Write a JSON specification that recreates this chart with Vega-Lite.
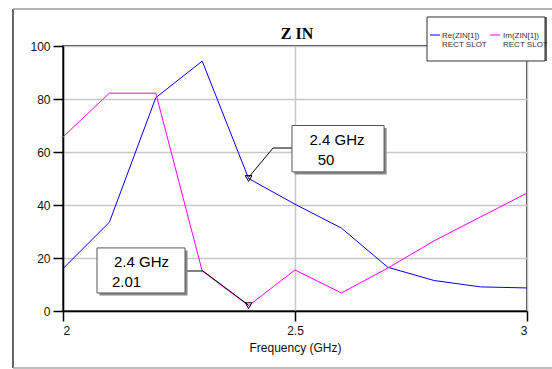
{
  "$schema": "https://vega.github.io/schema/vega-lite/v6.json",
  "width": 464,
  "height": 265,
  "autosize": {"type": "none"},
  "padding": {"left": 63, "top": 46, "right": 25, "bottom": 58},
  "background": "white",
  "config": {
    "view": {"stroke": "black", "strokeWidth": 1.5},
    "axis": {
      "labelFont": "Liberation Sans", "labelFontSize": 12, "labelColor": "#111",
      "titleFont": "Liberation Sans", "titleFontSize": 12, "titleFontWeight": "normal", "titleColor": "#111",
      "domainColor": "black", "domainWidth": 1.5, "tickColor": "black", "tickWidth": 1.5, "tickSize": 10,
      "gridColor": "#c8c8c8", "gridWidth": 1.5
    }
  },
  "datasets": {
    "series": [
      {"freq": 2.0, "value": 16, "series": "Re"},
      {"freq": 2.1, "value": 33.5, "series": "Re"},
      {"freq": 2.2, "value": 80.5, "series": "Re"},
      {"freq": 2.3, "value": 94.3, "series": "Re"},
      {"freq": 2.4, "value": 50, "series": "Re"},
      {"freq": 2.5, "value": 40.3, "series": "Re"},
      {"freq": 2.6, "value": 31.3, "series": "Re"},
      {"freq": 2.7, "value": 16.5, "series": "Re"},
      {"freq": 2.8, "value": 11.5, "series": "Re"},
      {"freq": 2.9, "value": 9.1, "series": "Re"},
      {"freq": 3.0, "value": 8.7, "series": "Re"},
      {"freq": 2.0, "value": 65.7, "series": "Im"},
      {"freq": 2.1, "value": 82.2, "series": "Im"},
      {"freq": 2.2, "value": 82.2, "series": "Im"},
      {"freq": 2.3, "value": 15.1, "series": "Im"},
      {"freq": 2.4, "value": 2.01, "series": "Im"},
      {"freq": 2.5, "value": 15.5, "series": "Im"},
      {"freq": 2.6, "value": 6.8, "series": "Im"},
      {"freq": 2.7, "value": 16.2, "series": "Im"},
      {"freq": 2.8, "value": 26.5, "series": "Im"},
      {"freq": 2.9, "value": 35.5, "series": "Im"},
      {"freq": 3.0, "value": 44.5, "series": "Im"}
    ],
    "markers": [
      {"freq": 2.4, "value": 50},
      {"freq": 2.4, "value": 2.01}
    ],
    "leaders": [
      {"x": 2.4009, "y": 50.6, "x2": 2.4526, "y2": 61.5},
      {"x": 2.4526, "y": 61.5, "x2": 2.4935, "y2": 61.5},
      {"x": 2.263, "y": 15.1, "x2": 2.3017, "y2": 15.1},
      {"x": 2.3017, "y": 15.1, "x2": 2.4, "y2": 2.2}
    ],
    "boxes": [
      {"x": 2.4935, "x2": 2.692, "y": 70.0, "y2": 52.5},
      {"x": 2.0733, "x2": 2.263, "y": 23.8, "y2": 6.8}
    ],
    "boxtext": [
      {"x": 2.5905, "y": 62.6, "label": "2.4 GHz"},
      {"x": 2.5668, "y": 55.1, "label": "50"},
      {"x": 2.1692, "y": 16.6, "label": "2.4 GHz"},
      {"x": 2.1369, "y": 9.06, "label": "2.01"}
    ],
    "frame": [
      {"x": 1.8922, "y": 113.96, "x2": 1.8922, "y2": -21.5, "c": "#333"},
      {"x": 1.8922, "y": 113.96, "x2": 3.06, "y2": 113.96, "c": "#999"},
      {"x": 1.8922, "y": -21.5, "x2": 3.06, "y2": -21.5, "c": "#aaa"}
    ],
    "legbox": [{"x": 2.7845, "x2": 3.0388, "y": 110.94, "y2": 94.34}],
    "legline": [
      {"x": 2.7909, "x2": 2.8125, "y": 104.15, "series": "Re"},
      {"x": 2.9203, "x2": 2.9418, "y": 104.15, "series": "Im"}
    ],
    "legtext": [
      {"x": 2.8168, "y": 103.0, "label": "Re(ZIN[1])"},
      {"x": 2.8168, "y": 99.7, "label": "RECT SLOT"},
      {"x": 2.9483, "y": 103.0, "label": "Im(ZIN[1])"},
      {"x": 2.9483, "y": 99.7, "label": "RECT SLOT"}
    ],
    "title": [{"x": 2.5043, "y": 102.75, "label": "Z IN"}]
  },
  "layer": [
    {
      "data": {"name": "frame"},
      "mark": {"type": "rule", "strokeWidth": 1.5},
      "encoding": {
        "x": {"field": "x", "type": "quantitative"},
        "y": {"field": "y", "type": "quantitative"},
        "x2": {"field": "x2"},
        "y2": {"field": "y2"},
        "color": {"field": "c", "type": "nominal", "scale": null, "legend": null}
      }
    },
    {
      "data": {"name": "series"},
      "mark": {"type": "line", "strokeWidth": 1},
      "encoding": {
        "x": {
          "field": "freq", "type": "quantitative",
          "scale": {"domain": [2, 3], "nice": false, "zero": false},
          "axis": {"values": [2, 2.5, 3], "format": "~g", "title": "Frequency (GHz)", "labelPadding": 4, "titlePadding": 6}
        },
        "y": {
          "field": "value", "type": "quantitative",
          "scale": {"domain": [0, 100], "nice": false},
          "axis": {"values": [0, 20, 40, 60, 80, 100], "title": null, "labelPadding": 3}
        },
        "color": {
          "field": "series", "type": "nominal",
          "scale": {"domain": ["Re", "Im"], "range": ["#0000ff", "#ff00ff"]},
          "legend": null
        }
      }
    },
    {
      "data": {"name": "leaders"},
      "mark": {"type": "rule", "color": "black", "strokeWidth": 1},
      "encoding": {
        "x": {"field": "x", "type": "quantitative"},
        "y": {"field": "y", "type": "quantitative"},
        "x2": {"field": "x2"},
        "y2": {"field": "y2"}
      }
    },
    {
      "data": {"name": "markers"},
      "mark": {"type": "point", "shape": "triangle-down", "size": 45, "stroke": "black", "strokeWidth": 1, "filled": false, "opacity": 1},
      "encoding": {
        "x": {"field": "freq", "type": "quantitative"},
        "y": {"field": "value", "type": "quantitative"}
      }
    },
    {
      "data": {"name": "boxes"},
      "mark": {"type": "rect", "fill": "#888", "xOffset": 2.5, "yOffset": 2.5, "x2Offset": 2.5, "y2Offset": 2.5},
      "encoding": {
        "x": {"field": "x", "type": "quantitative"},
        "y": {"field": "y", "type": "quantitative"},
        "x2": {"field": "x2"},
        "y2": {"field": "y2"}
      }
    },
    {
      "data": {"name": "boxes"},
      "mark": {"type": "rect", "fill": "white", "stroke": "#555", "strokeWidth": 1},
      "encoding": {
        "x": {"field": "x", "type": "quantitative"},
        "y": {"field": "y", "type": "quantitative"},
        "x2": {"field": "x2"},
        "y2": {"field": "y2"}
      }
    },
    {
      "data": {"name": "boxtext"},
      "mark": {"type": "text", "font": "Liberation Sans", "fontSize": 15, "color": "black", "align": "center", "baseline": "alphabetic"},
      "encoding": {
        "x": {"field": "x", "type": "quantitative"},
        "y": {"field": "y", "type": "quantitative"},
        "text": {"field": "label"}
      }
    },
    {
      "data": {"name": "legbox"},
      "mark": {"type": "rect", "fill": "#666", "xOffset": 2, "yOffset": 0, "x2Offset": 2, "y2Offset": 0},
      "encoding": {
        "x": {"field": "x", "type": "quantitative"},
        "y": {"field": "y", "type": "quantitative"},
        "x2": {"field": "x2"},
        "y2": {"field": "y2"}
      }
    },
    {
      "data": {"name": "legbox"},
      "mark": {"type": "rect", "fill": "white", "stroke": "#333", "strokeWidth": 1},
      "encoding": {
        "x": {"field": "x", "type": "quantitative"},
        "y": {"field": "y", "type": "quantitative"},
        "x2": {"field": "x2"},
        "y2": {"field": "y2"}
      }
    },
    {
      "data": {"name": "legline"},
      "mark": {"type": "rule", "strokeWidth": 1},
      "encoding": {
        "x": {"field": "x", "type": "quantitative"},
        "x2": {"field": "x2"},
        "y": {"field": "y", "type": "quantitative"},
        "color": {"field": "series", "type": "nominal", "legend": null}
      }
    },
    {
      "data": {"name": "legtext"},
      "mark": {"type": "text", "font": "Liberation Sans", "fontSize": 8, "color": "#333", "align": "left", "baseline": "alphabetic"},
      "encoding": {
        "x": {"field": "x", "type": "quantitative"},
        "y": {"field": "y", "type": "quantitative"},
        "text": {"field": "label"}
      }
    },
    {
      "data": {"name": "title"},
      "mark": {"type": "text", "font": "Liberation Serif", "fontSize": 16, "fontWeight": "bold", "color": "black", "align": "center", "baseline": "alphabetic"},
      "encoding": {
        "x": {"field": "x", "type": "quantitative"},
        "y": {"field": "y", "type": "quantitative"},
        "text": {"field": "label"}
      }
    }
  ]
}
